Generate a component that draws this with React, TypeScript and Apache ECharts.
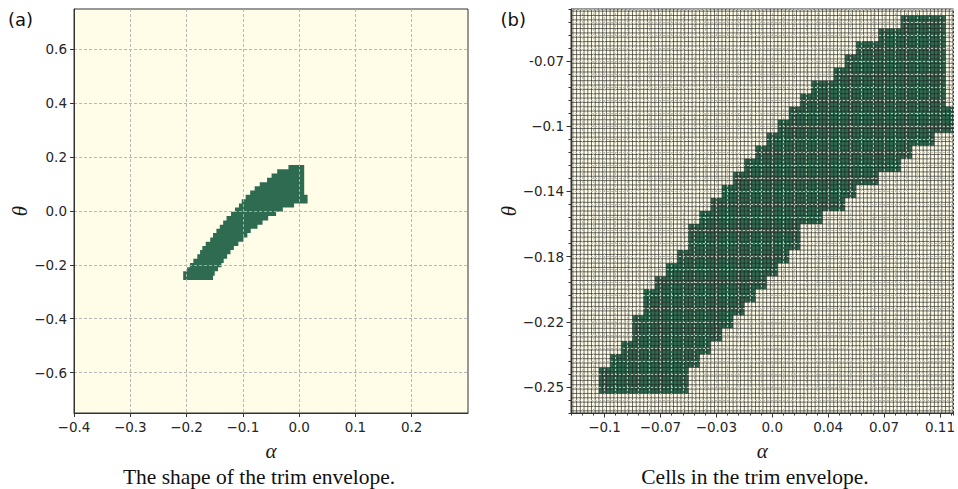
import React, { useEffect, useRef } from 'react';
import * as echarts from 'echarts';

// ---------- Panel (a): trim envelope shape (alpha, theta) ----------
const A_X_TICKS = [-0.4, -0.3, -0.2, -0.1, 0.0, 0.1, 0.2];
const A_Y_TICKS = [-0.6, -0.4, -0.2, 0.0, 0.2, 0.4, 0.6];
// theta boundaries of the rows of cells (bottom to top)
const A_THETA_EDGES = [-0.256, -0.240, -0.224, -0.209, -0.193, -0.177, -0.161, -0.145, -0.130, -0.114, -0.098, -0.082, -0.066, -0.051, -0.035, -0.019, -0.003, 0.013, 0.028, 0.044, 0.060, 0.076, 0.092, 0.107, 0.123, 0.139, 0.155, 0.171];
// alpha extent of each row
const A_ALPHA_LEFT = [-0.206, -0.206, -0.199, -0.194, -0.188, -0.181, -0.176, -0.172, -0.166, -0.158, -0.153, -0.147, -0.141, -0.135, -0.129, -0.121, -0.114, -0.107, -0.102, -0.095, -0.087, -0.079, -0.070, -0.057, -0.049, -0.039, -0.019];
const A_ALPHA_RIGHT = [-0.153, -0.150, -0.144, -0.138, -0.134, -0.128, -0.122, -0.116, -0.108, -0.099, -0.092, -0.086, -0.074, -0.065, -0.055, -0.041, -0.029, -0.009, 0.015, 0.015, 0.009, 0.009, 0.009, 0.009, 0.009, 0.009, 0.009];

// ---------- Panel (b): cells (grid indices) ----------
const B_X_MAX = 34.2;
const B_Y_MAX = 31;
const B_X_TICK_POS = [3, 8, 13, 18, 23, 28, 33];
const B_X_LABELS = ['\u22120.1', '\u22120.07', '\u22120.03', '0.0', '0.04', '0.07', '0.11'];
const B_Y_TICK_POS = [2, 7, 12, 17, 22, 27];
const B_Y_LABELS = ['\u22120.25', '\u22120.22', '\u22120.18', '\u22120.14', '\u22120.1', '-0.07'];
const B_ROWS = [2, 3, 4, 5, 6, 7, 8, 9, 10, 11, 12, 13, 14, 15, 16, 17, 18, 19, 20, 21, 22, 23, 24, 25, 26, 27, 28, 29, 30];
const B_FIRST = [3, 3, 4, 5, 6, 6, 7, 7, 8, 9, 10, 11, 11, 12, 13, 14, 15, 16, 17, 18, 19, 20, 21, 22, 24, 25, 26, 28, 30];
const B_LAST = [10, 10, 11, 12, 13, 14, 15, 16, 17, 18, 19, 20, 20, 22, 24, 25, 27, 29, 30, 32, 34, 34, 33, 33, 33, 33, 33, 33, 33];

const GREEN = '#2f6b51';
const CREAM = '#fffde8';
const AXIS = '#333333';

type Row = [number, number, number, number]; // left, right, bottom, top

function staircase(rows: Row[]): [number, number][] {
  const pts: [number, number][] = [];
  rows.forEach(([l, r, b, t], i) => {
    if (i === 0) pts.push([l, b]);
    pts.push([r, b]);
    pts.push([r, t]);
  });
  for (let i = rows.length - 1; i >= 0; i--) {
    const [l, , b, t] = rows[i];
    pts.push([l, t]);
    pts.push([l, b]);
  }
  return pts;
}

const rowsA: Row[] = A_ALPHA_LEFT.map((l, i) => [l, A_ALPHA_RIGHT[i], A_THETA_EDGES[i], A_THETA_EDGES[i + 1]]);
const rowsB: Row[] = B_ROWS.map((j, i) => [B_FIRST[i] - 0.5, Math.min(B_LAST[i] + 0.5, B_X_MAX), j - 0.5, j + 0.5]);

const fmtA = (v: number) => {
  const r = Math.round(v * 10) / 10;
  return (r < 0 ? '\u2212' : '') + Math.abs(r).toFixed(1);
};

const tickFont = { fontFamily: 'DejaVu Sans', fontSize: 13.5, color: '#262626' };
const nameFont = { fontFamily: 'Liberation Serif', fontStyle: 'italic' as const, fontSize: 21, color: '#1a1a1a' };

function buildOption() {
  const axisLine = { show: true, onZero: false, lineStyle: { color: AXIS, width: 1 } };
  const dashA = { show: true, lineStyle: { color: '#b0b0b0', width: 0.9, type: [3, 2] } };
  const dashB = { show: true, lineStyle: { color: '#bdbdb2', width: 1, type: [2, 2] } };

  return {
    animation: false,
    grid: [
      { left: 74, top: 9, width: 394, height: 404, show: true, backgroundColor: CREAM, borderColor: AXIS, borderWidth: 1 },
      { left: 571, top: 9, width: 386, height: 404, show: true, backgroundColor: CREAM, borderColor: AXIS, borderWidth: 1 },
    ],
    xAxis: [
      {
        gridIndex: 0, type: 'value', min: -0.4, max: 0.3, z: 5,
        axisLine,
        axisTick: { show: true, length: 4, lineStyle: { color: AXIS }, customValues: A_X_TICKS },
        axisLabel: { ...tickFont, margin: 7, customValues: A_X_TICKS, formatter: fmtA },
        splitLine: dashA,
        name: '\u03b1', nameLocation: 'middle', nameGap: 27, nameTextStyle: nameFont,
      },
      {
        gridIndex: 1, type: 'value', min: 0, max: B_X_MAX, interval: 1, z: 5,
        axisLine,
        axisTick: { show: true, length: 2.5, lineStyle: { color: AXIS } },
        axisLabel: { show: false },
        splitLine: dashB,
        name: '\u03b1', nameLocation: 'middle', nameGap: 27, nameTextStyle: nameFont,
      },
      {
        gridIndex: 1, type: 'value', min: 0, max: B_X_MAX, z: 5, position: 'bottom',
        axisLine: { show: false, onZero: false },
        axisTick: { show: true, length: 4.5, lineStyle: { color: AXIS }, customValues: B_X_TICK_POS },
        axisLabel: {
          ...tickFont, margin: 7, customValues: B_X_TICK_POS,
          formatter: (v: number) => B_X_LABELS[B_X_TICK_POS.indexOf(Math.round(v))] ?? '',
        },
        splitLine: { show: false },
      },
    ],
    yAxis: [
      {
        gridIndex: 0, type: 'value', min: -0.75, max: 0.75, z: 5,
        axisLine,
        axisTick: { show: true, length: 4, lineStyle: { color: AXIS }, customValues: A_Y_TICKS },
        axisLabel: { ...tickFont, margin: 7, customValues: A_Y_TICKS, formatter: fmtA },
        splitLine: dashA,
        name: '\u03b8', nameLocation: 'middle', nameGap: 43, nameTextStyle: nameFont,
      },
      {
        gridIndex: 1, type: 'value', min: 0, max: B_Y_MAX, interval: 1, z: 5,
        axisLine,
        axisTick: { show: true, length: 2.5, lineStyle: { color: AXIS } },
        axisLabel: { show: false },
        splitLine: dashB,
        name: '\u03b8', nameLocation: 'middle', nameGap: 52, nameTextStyle: nameFont,
      },
      {
        gridIndex: 1, type: 'value', min: 0, max: B_Y_MAX, z: 5, position: 'left',
        axisLine: { show: false, onZero: false },
        axisTick: { show: true, length: 4.5, lineStyle: { color: AXIS }, customValues: B_Y_TICK_POS },
        axisLabel: {
          ...tickFont, margin: 7, customValues: B_Y_TICK_POS,
          formatter: (v: number) => B_Y_LABELS[B_Y_TICK_POS.indexOf(Math.round(v))] ?? '',
        },
        splitLine: { show: false },
      },
    ],
    series: [
      {
        type: 'custom', xAxisIndex: 0, yAxisIndex: 0, silent: true, z: 2,
        data: [[0, 0]],
        renderItem: (_p: any, api: any) => ({
          type: 'polygon',
          shape: { points: staircase(rowsA).map((p) => api.coord(p)) },
          style: { fill: GREEN },
        }),
      },
      {
        type: 'custom', xAxisIndex: 1, yAxisIndex: 1, silent: true, z: 2,
        data: [[1, 1]],
        renderItem: (_p: any, api: any) => ({
          type: 'polygon',
          shape: { points: staircase(rowsB).map((p) => api.coord(p)) },
          style: { fill: GREEN },
        }),
      },
      {
        type: 'custom', xAxisIndex: 1, yAxisIndex: 1, silent: true, z: 3,
        data: [[1, 1]],
        renderItem: (_p: any, api: any) => {
          const children: any[] = [];
          const style = { stroke: '#222222', lineWidth: 0.65 };
          for (let m = 0; (2 * m + 1) / 6 < B_X_MAX; m++) {
            const k = (2 * m + 1) / 6;
            const a = api.coord([k, 0]);
            const b = api.coord([k, B_Y_MAX]);
            children.push({ type: 'line', shape: { x1: a[0], y1: a[1], x2: b[0], y2: b[1] }, style });
          }
          for (let m = 0; (2 * m + 1) / 6 < B_Y_MAX; m++) {
            const j = (2 * m + 1) / 6;
            const a = api.coord([0, j]);
            const b = api.coord([B_X_MAX, j]);
            children.push({ type: 'line', shape: { x1: a[0], y1: a[1], x2: b[0], y2: b[1] }, style });
          }
          return { type: 'group', children };
        },
      },
    ],
    graphic: [
      { type: 'text', x: 8, y: 19, style: { text: '(a)', fontFamily: 'DejaVu Sans', fontSize: 18, fill: '#111', align: 'left', verticalAlign: 'middle' } },
      { type: 'text', x: 500.5, y: 19, style: { text: '(b)', fontFamily: 'DejaVu Sans', fontSize: 18, fill: '#111', align: 'left', verticalAlign: 'middle' } },
      { type: 'text', x: 259, y: 477, style: { text: 'The shape of the trim envelope.', fontFamily: 'Liberation Serif', fontSize: 21.5, fill: '#111', align: 'center', verticalAlign: 'middle' } },
      { type: 'text', x: 755, y: 477, style: { text: 'Cells in the trim envelope.', fontFamily: 'Liberation Serif', fontSize: 21.5, fill: '#111', align: 'center', verticalAlign: 'middle' } },
    ],
  };
}

export default function App() {
  const ref = useRef<HTMLDivElement>(null);
  useEffect(() => {
    document.body.style.margin = '0';
    const chart = echarts.init(ref.current!, null, { renderer: 'svg' });
    chart.setOption(buildOption() as any);
    return () => chart.dispose();
  }, []);
  return <div ref={ref} style={{ width: 958, height: 489 }} />;
}
